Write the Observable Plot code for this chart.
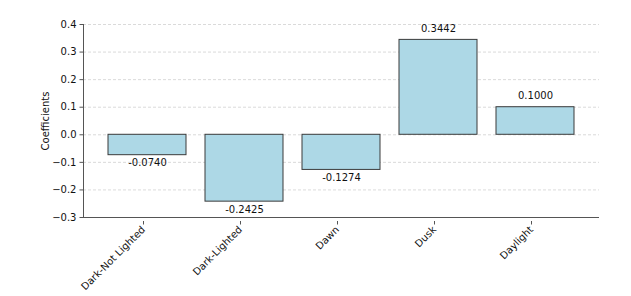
<!DOCTYPE html>
<html>
<head>
<meta charset="utf-8">
<script src="https://cdn.jsdelivr.net/npm/d3@7"></script>
<script src="https://cdn.jsdelivr.net/npm/@observablehq/plot@0.6"></script>
<style>
  html, body { margin: 0; padding: 0; background: #fff; }
  #chart svg { display: block; }
</style>
</head>
<body>
<div id="chart"></div>
<script>
const categories = ["Dark-Not Lighted", "Dark-Lighted", "Dawn", "Dusk", "Daylight"];
const coefficients = [-0.0740, -0.2425, -0.1274, 0.3442, 0.1000];
const yTicks = [-0.3, -0.2, -0.1, 0.0, 0.1, 0.2, 0.3, 0.4];
const yLabel = "Coefficients";

const data = categories.map((c, i) => ({category: c, value: coefficients[i]}));
const neg = data.filter(d => d.value < 0);
const pos = data.filter(d => d.value >= 0);
const font = "DejaVu Sans, sans-serif";

const chart = Plot.plot({
  width: 631,
  height: 296,
  marginLeft: 83,
  marginRight: 32,
  marginTop: 24,
  marginBottom: 79,
  style: {fontFamily: font, fontSize: "10px", color: "#222", background: "#fff"},
  x: {domain: categories, paddingInner: 0.2, paddingOuter: 0.24, label: null},
  y: {domain: [-0.3, 0.4], label: null},
  marks: [
    Plot.gridY(yTicks.slice(1), {stroke: "#c4c4c4", strokeOpacity: 0.8, strokeDasharray: "3,2", strokeWidth: 0.8}),
    Plot.barY(data, {x: "category", y: "value", fill: "#add8e6", stroke: "#3a3a3a", strokeWidth: 1}),
    Plot.text(neg, {x: "category", y: "value", text: d => d.value.toFixed(4), lineAnchor: "top", dy: 4, fontSize: 10, fill: "#111"}),
    Plot.text(pos, {x: "category", y: "value", text: d => d.value.toFixed(4), lineAnchor: "bottom", dy: -8, fontSize: 10, fill: "#111"}),
    Plot.ruleY([-0.3], {stroke: "#555", strokeWidth: 1}),
    Plot.frame({anchor: "left", stroke: "#555", strokeWidth: 1}),
    Plot.axisY({ticks: yTicks, tickFormat: d3.format(".1f"), tickSize: 3.5, tickPadding: 3.5, fontSize: 10, stroke: "#555", fill: "#111",
      label: yLabel, labelAnchor: "center", labelArrow: "none", labelOffset: 42}),
    Plot.axisX({tickSize: 3.5, tickPadding: 3, tickRotate: -45, fontSize: 10, stroke: "#555", fill: "#111", label: null, dx: -4, dy: 4})
  ]
});
document.getElementById("chart").appendChild(chart);
</script>
</body>
</html>
